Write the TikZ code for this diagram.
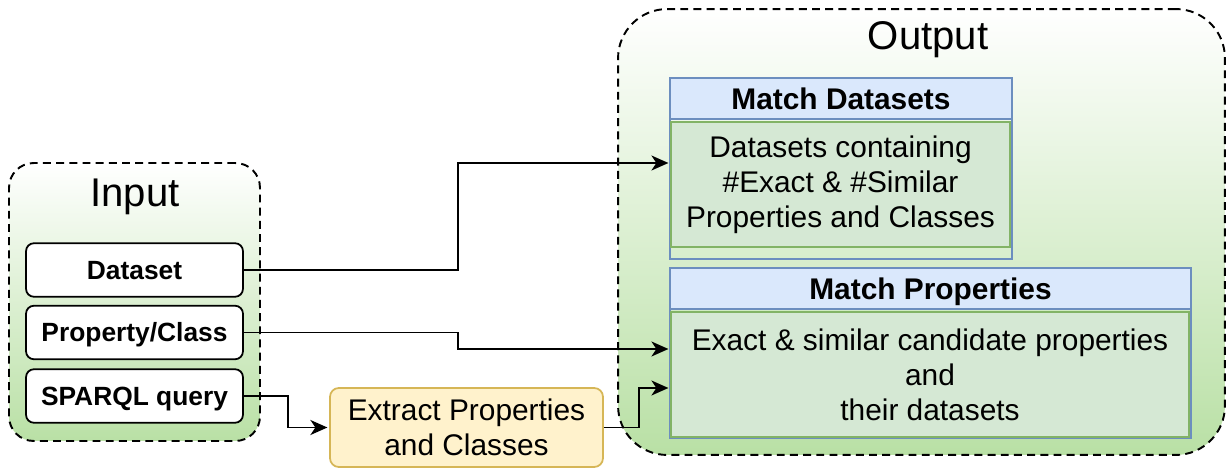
\documentclass[tikz,border=0pt]{standalone}
\usepackage{fontspec}
\setmainfont{Liberation Sans}
\usetikzlibrary{arrows.meta,positioning}
\definecolor{frameblue}{HTML}{6C8EBF}
\definecolor{headblue}{HTML}{DAE8FC}
\definecolor{framegreen}{HTML}{82B366}
\definecolor{bodygreen}{HTML}{D5E8D4}
\definecolor{shadegreen}{HTML}{B9E0A5}
\definecolor{extractfill}{HTML}{FFF2CC}
\definecolor{extractdraw}{HTML}{D6B656}
\newcommand{\diagbody}{\fontsize{17}{20}\selectfont}
\newcommand{\diaglabel}{\fontsize{15}{18}\selectfont\bfseries}
\newcommand{\diaghead}{\fontsize{17}{20}\selectfont\bfseries}
\newcommand{\diagtitle}{\fontsize{22.8}{27}\selectfont}

\begin{document}
\begin{tikzpicture}[x=0.02cm,y=-0.02cm,
    container/.style={draw=black,line width=1.1pt,dash pattern=on 4.5pt off 3pt,
      top color=white,bottom color=shadegreen},
    inbox/.style={draw=black,line width=1pt,rounded corners=4.5pt,fill=white,
      minimum width=4.34cm,inner sep=0pt,text height=10.7pt,text depth=0pt,
      font=\diaglabel},
    lane/.style={draw=frameblue,line width=1pt,inner sep=0pt},
    head/.style={draw=frameblue,fill=headblue,line width=1pt,inner sep=0pt,
      minimum height=0.82cm,text height=12.2pt,text depth=0pt,font=\diaghead},
    body/.style={draw=framegreen,fill=bodygreen,line width=1pt,inner sep=0pt,
      minimum height=2.5cm,align=center,font=\diagbody},
    conn/.style={black,line width=1.1pt,shorten >=1pt,
      -{Stealth[length=3.4mm,width=3mm,inset=1mm]}}]
  \useasboundingbox (0,0) rectangle (1227,469);
  % input side
  \node[container,rounded corners=14pt,minimum width=5.02cm,minimum height=5.56cm]
    (input) at (134.5,302) {};
  \node[anchor=base,font=\diagtitle] (intitle) at (135,207) {Input};
  \foreach \y/\n/\t in {270/dataset/Dataset,332.5/propclass/{Property/Class},396/sparql/SPARQL query}
    \node[inbox,minimum height=1.07cm] (\n) at (134.5,\y) {\t};
  % output side
  \node[container,rounded corners=28pt,minimum width=12.14cm,minimum height=8.92cm]
    (output) at (921.5,232) {};
  \node[anchor=base,font=\diagtitle] (outtitle) at (928,50) {Output};
  \node[lane,minimum width=6.84cm,minimum height=3.62cm] (mds) at (841,168.5) {};
  \node[head,minimum width=6.84cm] (mdhead) at (841,98.5) {Match Datasets};
  \node[body,minimum width=6.78cm] (mdbody) at (840.5,184.5)
    {Datasets containing\\\#Exact \& \#Similar\\Properties and Classes};
  \node[lane,minimum width=10.42cm,minimum height=3.4cm] (mps) at (930.5,353) {};
  \node[head,minimum width=10.42cm] (mphead) at (930.5,288.5) {Match Properties};
  \node[body,minimum width=10.36cm] (mpbody) at (930,374.5)
    {Exact \& similar candidate properties\\and\\their datasets};
  % extraction step
  \node[draw=extractdraw,fill=extractfill,line width=1pt,rounded corners=5pt,
    minimum width=5.46cm,minimum height=1.58cm,align=center,font=\diagbody]
    (extract) at (466.5,427.5) {Extract Properties\\and Classes};
  % connectors
  \draw[conn] (dataset.east) -- ++(214,0) |- ([yshift=0.43cm]mdbody.west);
  \draw[conn] (propclass.east) -- ++(214,0) |- ([yshift=0.51cm]mpbody.west);
  \draw[conn] (sparql.east) -- ++(44,0) |- (extract.west);
  \draw[conn] (extract.east) -- ++(35,0) |- ([yshift=-0.27cm]mpbody.west);
\end{tikzpicture}
\end{document}
